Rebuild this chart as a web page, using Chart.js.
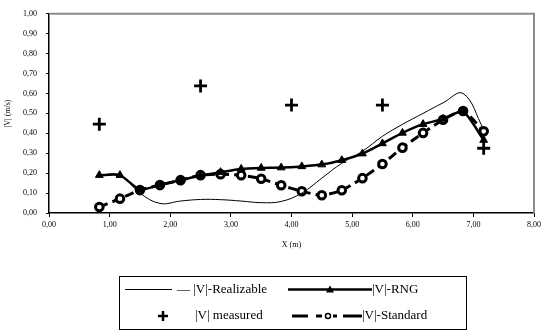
<!DOCTYPE html>
<html>
<head>
<meta charset="utf-8">
<script src="https://cdn.jsdelivr.net/npm/chart.js@4/dist/chart.umd.min.js"></script>
<style>
  html, body { margin: 0; padding: 0; background: #fff; }
  #wrap { width: 544px; height: 333px; position: relative; }
</style>
</head>
<body>
<div id="wrap"><canvas id="chart"></canvas></div>
<script>
// positions along X (m) of the simulated profiles
const xPos = [0.83, 1.17, 1.5, 1.83, 2.17, 2.5, 2.83, 3.17, 3.5, 3.83, 4.17, 4.5, 4.83, 5.17, 5.5, 5.83, 6.17, 6.5, 6.83, 7.17];
const realizable = [0.19, 0.19, 0.10, 0.048, 0.06, 0.068, 0.067, 0.06, 0.052, 0.058, 0.10, 0.175, 0.25, 0.31, 0.385, 0.445, 0.50, 0.553, 0.60, 0.42];
const rng = [0.19, 0.19, 0.117, 0.142, 0.165, 0.188, 0.205, 0.221, 0.226, 0.228, 0.234, 0.243, 0.265, 0.298, 0.349, 0.402, 0.446, 0.472, 0.51, 0.366];
const standard = [0.03, 0.072, 0.115, 0.14, 0.165, 0.19, 0.195, 0.19, 0.172, 0.139, 0.109, 0.089, 0.114, 0.175, 0.246, 0.328, 0.402, 0.468, 0.512, 0.41];

const measuredX = [0.83, 2.5, 4.0, 5.5, 7.17];
const measuredY = [0.446, 0.638, 0.542, 0.542, 0.325];

const xTicks = [0, 1, 2, 3, 4, 5, 6, 7, 8];
const yTicks = [0, 0.1, 0.2, 0.3, 0.4, 0.5, 0.6, 0.7, 0.8, 0.9, 1.0];

const serif = '"Liberation Serif", "Times New Roman", serif';
const pts = (xs, ys) => xs.map((x, i) => ({ x, y: ys[i] }));
const fmt = (v) => v.toFixed(2).replace('.', ',');

// frame on top/right and the boxed legend under the plot
const frameAndLegend = {
    id: 'frameAndLegend',
    afterDraw(chart) {
        const { ctx, chartArea: a } = chart;
        ctx.save();
        ctx.strokeStyle = '#8c8c8c';
        ctx.lineWidth = 2;
        ctx.beginPath();
        ctx.moveTo(a.left, a.top);
        ctx.lineTo(a.right, a.top);
        ctx.lineTo(a.right, a.bottom);
        ctx.stroke();

        ctx.strokeStyle = '#000';
        ctx.lineWidth = 1;
        ctx.strokeRect(119.5, 276.5, 347, 53);

        ctx.font = '13px ' + serif;
        ctx.fillStyle = '#000';
        ctx.textBaseline = 'middle';
        const r1 = 289.5, r2 = 316;

        // row 1: Realizable, RNG
        ctx.beginPath();
        ctx.moveTo(125, r1); ctx.lineTo(172, r1); ctx.stroke();
        ctx.fillText('\u2014 |V|-Realizable', 177, r1);
        ctx.lineWidth = 2.5;
        ctx.beginPath();
        ctx.moveTo(288, r1); ctx.lineTo(372, r1); ctx.stroke();
        ctx.beginPath();
        ctx.moveTo(330, r1 - 4); ctx.lineTo(334, r1 + 3); ctx.lineTo(326, r1 + 3); ctx.closePath();
        ctx.fill();
        ctx.fillText('|V|-RNG', 372, r1);

        // row 2: measured, Standard
        ctx.lineWidth = 2.5;
        ctx.beginPath();
        ctx.moveTo(163, r2 - 5); ctx.lineTo(163, r2 + 5);
        ctx.moveTo(158, r2); ctx.lineTo(168, r2);
        ctx.stroke();
        ctx.fillText('|V| measured', 195, r2);
        ctx.lineWidth = 3;
        ctx.beginPath();
        [[292, 308], [316, 322], [333, 337], [343, 362]].forEach(([s, e]) => {
            ctx.moveTo(s, r2); ctx.lineTo(e, r2);
        });
        ctx.stroke();
        ctx.lineWidth = 1.5;
        ctx.fillStyle = '#fff';
        ctx.beginPath();
        ctx.arc(328, r2, 2.5, 0, Math.PI * 2);
        ctx.fill(); ctx.stroke();
        ctx.fillStyle = '#000';
        ctx.fillText('|V|-Standard', 362, r2);
        ctx.restore();
    },
};

new Chart(document.getElementById('chart'), {
    type: 'line',
    data: {
        datasets: [
            {
                label: '|V|-Realizable',
                data: pts(xPos, realizable),
                borderColor: '#000',
                borderWidth: 1,
                pointRadius: 0,
                tension: 0.4,
            },
            {
                label: '|V|-RNG',
                data: pts(xPos, rng),
                borderColor: '#000',
                backgroundColor: '#000',
                borderWidth: 2.5,
                pointStyle: 'triangle',
                pointRadius: 4.5,
                pointBorderWidth: 1,
                tension: 0.2,
            },
            {
                label: '|V| measured',
                data: pts(measuredX, measuredY),
                showLine: false,
                borderColor: '#000',
                pointStyle: 'cross',
                pointRadius: 6.5,
                pointBorderWidth: 2.8,
            },
            {
                label: '|V|-Standard',
                data: pts(xPos, standard),
                borderColor: '#000',
                backgroundColor: '#fff',
                borderWidth: 3,
                borderDash: [9, 5],
                pointStyle: 'circle',
                pointRadius: 3.8,
                pointBorderWidth: 3,
                tension: 0.2,
            },
        ],
    },
    options: {
        responsive: true,
        maintainAspectRatio: false,
        animation: false,
        layout: {
            padding: { top: 10, right: 7, bottom: 80, left: 0 },
        },
        scales: {
            x: {
                type: 'linear',
                min: 0,
                max: 8,
                afterBuildTicks: (s) => { s.ticks = xTicks.map((v) => ({ value: v })); },
                afterFit: (s) => { s.height = 40; },
                ticks: {
                    callback: (v) => fmt(v),
                    color: '#000',
                    font: { family: serif, size: 8 },
                    padding: 3,
                    maxRotation: 0,
                },
                grid: { drawOnChartArea: false, tickLength: 4, color: '#000' },
                border: { color: '#000', width: 1.5 },
                title: {
                    display: true,
                    text: 'X (m)',
                    color: '#000',
                    font: { family: serif, size: 8 },
                    padding: { top: 0, bottom: 3 },
                },
            },
            y: {
                min: 0,
                max: 1,
                afterBuildTicks: (s) => { s.ticks = yTicks.map((v) => ({ value: v })); },
                afterFit: (s) => { s.width = 49; },
                ticks: {
                    callback: (v) => fmt(v),
                    color: '#000',
                    font: { family: serif, size: 8 },
                    padding: 9,
                },
                grid: { drawOnChartArea: false, tickLength: 3, color: '#000' },
                border: { color: '#000', width: 1.5 },
                title: {
                    display: true,
                    text: '|V| (m/s)',
                    color: '#000',
                    font: { family: serif, size: 8 },
                    padding: { top: 3, bottom: 0 },
                },
            },
        },
        plugins: {
            legend: { display: false },
            tooltip: { enabled: false },
        },
    },
    plugins: [frameAndLegend],
});
</script>
</body>
</html>
